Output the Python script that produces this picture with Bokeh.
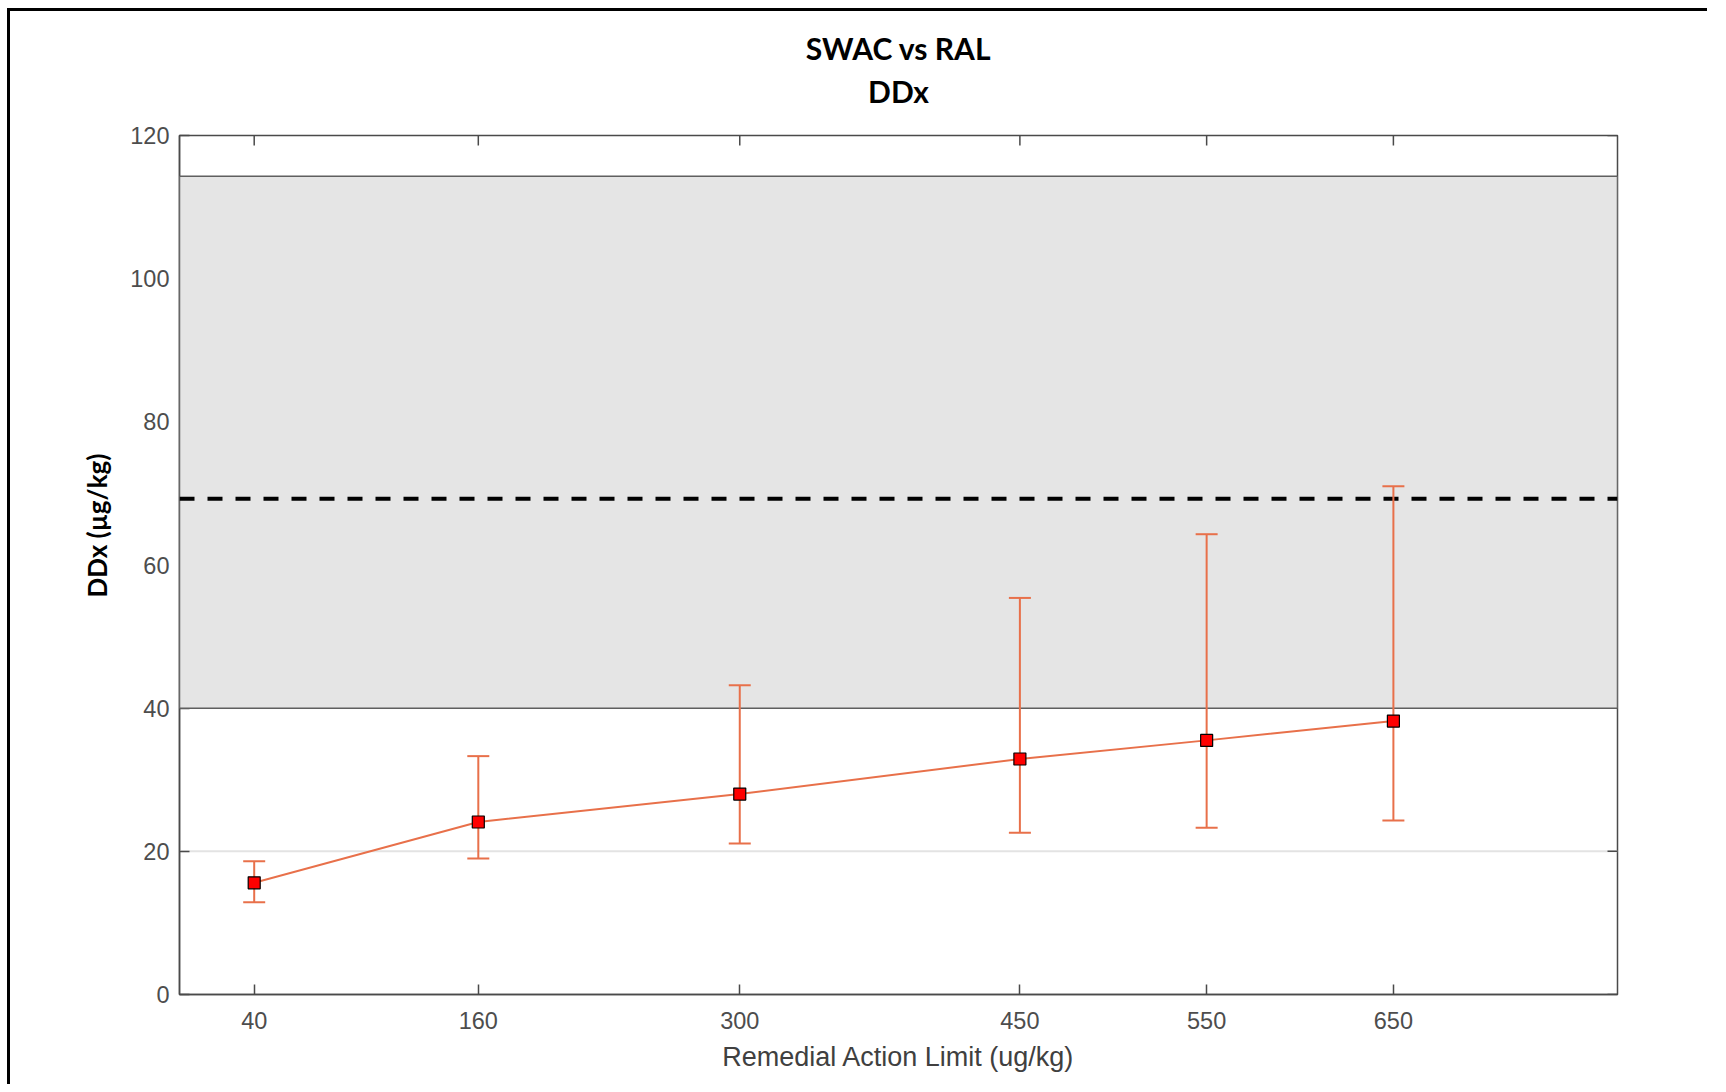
from math import pi
from bokeh.plotting import figure
from bokeh.models import (BoxAnnotation, Span, Whisker, TeeHead, ColumnDataSource,
                          FixedTicker, Title, Range1d)
from bokeh.embed import file_html
from bokeh.resources import INLINE

# ---- data ----
ral = [40, 160, 300, 450, 550, 650]
ddx_mean = [15.6, 24.1, 28.0, 32.9, 35.5, 38.2]
ddx_upper = [18.6, 33.3, 43.2, 55.4, 64.3, 71.0]
ddx_lower = [12.9, 19.0, 21.1, 22.6, 23.3, 24.3]
x_ticks = [40, 160, 300, 450, 550, 650]
y_ticks = [0, 20, 40, 60, 80, 100, 120]
x_limits = (0, 770)
y_limits = (0, 120)
band_low, band_high = 40, 114.3
threshold = 69.25
ref_line = 20
title_line1 = "SWAC vs RAL"
title_line2 = "DDx"
x_label = "Remedial Action Limit (ug/kg)"
y_label = "DDx (µg/kg)"

ORANGE = "#E8704A"
AXC = "#4a4a4a"
TICKC = "#4d4d4d"

src = ColumnDataSource(dict(x=ral, y=ddx_mean, upper=ddx_upper, lower=ddx_lower))
top_ticks = ColumnDataSource(dict(x=x_ticks, y=[y_limits[1]] * len(x_ticks)))
right_ticks = ColumnDataSource(dict(x=[x_limits[1]] * len(y_ticks), y=y_ticks))

p = figure(width=1700, height=1076, x_range=Range1d(*x_limits), y_range=Range1d(*y_limits),
           output_backend="svg", toolbar_location=None,
           min_border_left=169, min_border_right=93, min_border_top=124, min_border_bottom=93)
p.styles = {"border-left": "3px solid black", "border-top": "3px solid black",
            "margin-left": "7px", "margin-top": "8px"}
p.background_fill_color = "white"
p.outline_line_color = AXC
p.outline_line_width = 1.5
p.xgrid.visible = False
p.ygrid.visible = False

for ax in (p.xaxis[0], p.yaxis[0]):
    ax.axis_line_color = AXC
    ax.axis_line_width = 1.5
    ax.major_tick_line_color = AXC
    ax.major_tick_line_width = 1.5
    ax.major_tick_in = 10
    ax.major_tick_out = 0
    ax.minor_tick_line_color = None
    ax.major_label_text_font = "Liberation Sans"
    ax.major_label_text_font_size = "23.5px"
    ax.major_label_text_color = TICKC

p.xaxis.ticker = FixedTicker(ticks=x_ticks)
p.yaxis.ticker = FixedTicker(ticks=y_ticks)
p.xaxis.major_label_standoff = 17
p.yaxis.major_label_standoff = 10
p.xaxis.axis_label = x_label
p.xaxis.axis_label_text_font = "Liberation Sans"
p.xaxis.axis_label_text_font_size = "27px"
p.xaxis.axis_label_text_font_style = "normal"
p.xaxis.axis_label_text_color = "#404040"
p.xaxis.axis_label_standoff = 10

# titles
p.add_layout(Title(text=title_line2, align="center", text_font="Lato", text_font_size="30px",
                   text_font_style="bold", text_color="black", standoff=2,
                   padding=dict(left=0, right=0, top=0, bottom=26)), "above")
p.add_layout(Title(text=title_line1, align="center", text_font="Lato", text_font_size="30px",
                   text_font_style="bold", text_color="black", standoff=7), "above")
# y-axis label (placed as a side title so it can sit above the frame centre, as in the source)
p.add_layout(Title(text=y_label, align="left", offset=397, text_font="Lato",
                   text_font_size="26px", text_font_style="bold", text_color="black",
                   standoff=29), "left")

# reference lines / band
p.add_layout(Span(location=ref_line, dimension="width", line_color="#e3e3e3", line_width=2,
                  level="underlay"))
# box ticks on top and right (inward, clipped at the frame)
p.scatter("x", "y", source=top_ticks, marker="dash", angle=pi / 2, size=20,
          line_color=AXC, line_width=1.5)
p.scatter("x", "y", source=right_ticks, marker="dash", size=20,
          line_color=AXC, line_width=1.5)

p.add_layout(BoxAnnotation(bottom=band_low, top=band_high, fill_color="#e5e5e5", fill_alpha=1.0,
                           line_color="#5f5f5f", line_width=1.5, line_alpha=1.0, level="annotation"))
p.add_layout(Span(location=threshold, dimension="width", line_color="black", line_width=4,
                  line_dash="15 13", level="annotation"))

p.add_layout(Whisker(source=src, base="x", upper="upper", lower="lower",
                     line_color=ORANGE, line_width=2, level="annotation",
                     upper_head=TeeHead(size=22, line_color=ORANGE, line_width=2),
                     lower_head=TeeHead(size=22, line_color=ORANGE, line_width=2)))
p.line("x", "y", source=src, line_color=ORANGE, line_width=2, level="annotation")
p.scatter("x", "y", source=src, marker="square", size=12, fill_color="#ff0000",
          line_color="black", line_width=1.2, level="overlay")

open("out.html", "w").write(file_html(p, INLINE))
